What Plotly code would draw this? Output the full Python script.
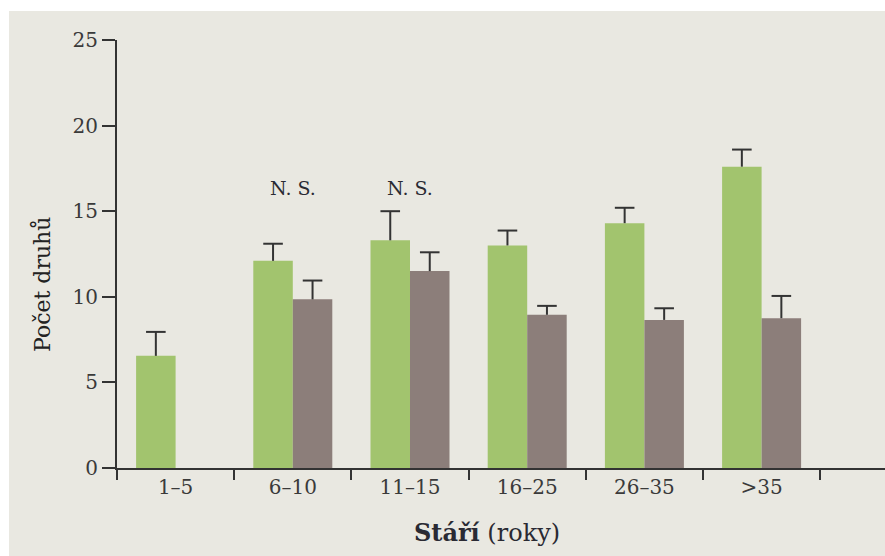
import plotly.graph_objects as go

# Age classes (years) and mean species counts with upper error bars
age_classes = ["1–5", "6–10", "11–15", "16–25", "26–35", ">35"]
green_values = [6.55, 12.1, 13.3, 13.0, 14.3, 17.6]
green_errors = [1.4, 1.0, 1.7, 0.87, 0.9, 1.0]
gray_values = [None, 9.85, 11.5, 8.95, 8.65, 8.75]
gray_errors = [None, 1.1, 1.1, 0.52, 0.68, 1.3]
ns_classes = ["6–10", "11–15"]
ns_level = 16.35

PANEL = "#e9e8e1"
INK = "#333333"
FONT = "DejaVu Serif"
GAP = 0.326

W, H = 885, 556
ML, MR, MT, MB = 117, 0, 40, 88
pw, ph = W - ML - MR, H - MT - MB


def px_x(x):
    return (x - ML) / pw


def px_y(y):
    return (H - MB - y) / ph


def tops(values, errors):
    return [None if v is None else v + e for v, e in zip(values, errors)]


fig = go.Figure()
for vals, errs, color in [(green_values, green_errors, "#a2c46e"),
                          (gray_values, gray_errors, "#8c7e7a")]:
    # bar with a plain upward whisker (no caps)
    fig.add_trace(go.Bar(
        x=age_classes, y=vals, marker=dict(color=color, line=dict(width=0)),
        error_y=dict(type="data", symmetric=False, array=errs,
                     arrayminus=[0] * len(errs), color=INK, thickness=2, width=0),
        showlegend=False, hoverinfo="skip",
    ))
for vals, errs in [(green_values, green_errors), (gray_values, gray_errors)]:
    # cap on top of each whisker
    fig.add_trace(go.Scatter(
        x=age_classes, y=tops(vals, errs), mode="markers",
        marker=dict(symbol="line-ew", size=14, line=dict(width=2, color=INK)),
        showlegend=False, hoverinfo="skip",
    ))

for c in ns_classes:
    fig.add_annotation(x=c, y=ns_level, text="N. S.", showarrow=False,
                       font=dict(family=FONT, size=19, color="#2a2a33"))

fig.add_annotation(xref="paper", yref="paper", x=px_x(42), y=px_y(285),
                   xanchor="center", yanchor="middle",
                   text="Počet druhů", textangle=-90, showarrow=False,
                   font=dict(family=FONT, size=22, color="#222222"))
fig.add_annotation(xref="paper", yref="paper", x=px_x(487), y=px_y(532),
                   xanchor="center", yanchor="middle",
                   text="<b>Stáří</b> (roky)", showarrow=False,
                   font=dict(family=FONT, size=24, color="#2a2a33"))

# white margins framing the tinted panel
fig.add_shape(type="rect", xref="paper", yref="paper", layer="above",
              x0=px_x(0), x1=1.01, y0=px_y(11), y1=px_y(0),
              fillcolor="white", line=dict(width=0))
fig.add_shape(type="rect", xref="paper", yref="paper", layer="above",
              x0=px_x(0), x1=px_x(9), y0=px_y(H), y1=px_y(0),
              fillcolor="white", line=dict(width=0))

fig.update_layout(
    width=W, height=H,
    margin=dict(l=ML, r=MR, t=MT, b=MB),
    paper_bgcolor=PANEL, plot_bgcolor=PANEL,
    barmode="group", bargap=GAP, bargroupgap=0,
    scattermode="group", scattergap=GAP,
    font=dict(family=FONT, size=20, color="#3a3a3a"),
)
fig.update_xaxes(
    type="category", range=[-0.5, (W - ML) / 117.2 - 0.5],
    tickson="boundaries", ticks="outside", ticklen=10, tickwidth=2, tickcolor=INK,
    showline=True, linecolor=INK, linewidth=2, showgrid=False, zeroline=False,
    tickfont=dict(family=FONT, size=20, color="#3a3a3a"),
)
fig.update_yaxes(
    range=[0, 25], tickvals=[0, 5, 10, 15, 20, 25],
    ticks="outside", ticklen=13, tickwidth=2, tickcolor=INK,
    showline=True, linecolor=INK, linewidth=2, showgrid=False, zeroline=False,
    tickfont=dict(family=FONT, size=20, color="#3a3a3a"),
)

fig.write_html("out.html")
